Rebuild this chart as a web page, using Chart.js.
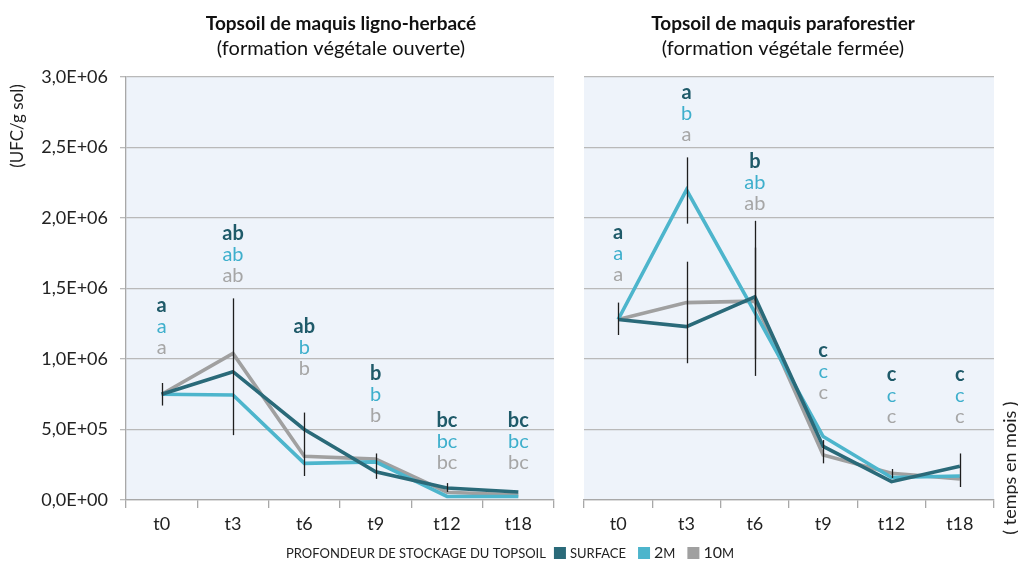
<!DOCTYPE html>
<html><head><meta charset="utf-8">
<script src="https://cdn.jsdelivr.net/npm/chart.js@4.4.1/dist/chart.umd.min.js"></script>
<style>
html,body{margin:0;padding:0;background:#fff;}
#wrap{position:relative;width:1018px;height:562px;}
canvas{position:absolute;left:0;top:0;}
</style>
</head><body>
<div id="wrap"><canvas id="c1" width="1018" height="562"></canvas><canvas id="c2" width="1018" height="562"></canvas></div>
<script>
// ---- data ----
const categories = ['t0','t3','t6','t9','t12','t18'];
const seriesNames = ['SURFACE','2M','10M'];
const yTickValues = [0, 5e5, 1e6, 1.5e6, 2e6, 2.5e6, 3e6];

const leftSurface = [0.75e6, 0.91e6, 0.50e6, 0.20e6, 0.085e6, 0.057e6];
const left2m      = [0.75e6, 0.745e6, 0.26e6, 0.27e6, 0.025e6, 0.025e6];
const left10m     = [0.75e6, 1.04e6, 0.31e6, 0.29e6, 0.055e6, 0.035e6];

const rightSurface = [1.28e6, 1.23e6, 1.44e6, 0.38e6, 0.13e6, 0.24e6];
const right2m      = [1.28e6, 2.20e6, 1.33e6, 0.45e6, 0.16e6, 0.17e6];
const right10m     = [1.28e6, 1.40e6, 1.41e6, 0.32e6, 0.19e6, 0.15e6];

// error bars: [category index, low, high]
const leftErrorBars  = [[0,0.67e6,0.83e6],[1,0.46e6,1.43e6],[2,0.17e6,0.62e6],[3,0.15e6,0.33e6],[4,0.057e6,0.12e6]];
const rightErrorBars = [[0,1.17e6,1.40e6],[1,1.96e6,2.43e6],[1,0.97e6,1.69e6],[2,0.88e6,1.98e6],[2,1.0e6,1.79e6],[3,0.26e6,0.425e6],[4,0.156e6,0.22e6],[5,0.092e6,0.33e6]];

// significance letters per category: [surface, 2m, 10m]
const leftLetters  = [['a','a','a'],['ab','ab','ab'],['ab','b','b'],['b','b','b'],['bc','bc','bc'],['bc','bc','bc']];
const rightLetters = [['a','a','a'],['a','b','a'],['b','ab','ab'],['c','c','c'],['c','c','c'],['c','c','c']];
// value level of the top letter of each stack
const leftLetterLevels  = [1.38e6, 1.89e6, 1.23e6, 0.90e6, 0.56e6, 0.56e6];
const rightLetterLevels = [1.90e6, 2.89e6, 2.40e6, 1.06e6, 0.89e6, 0.89e6];

const leftTitle  = ['Topsoil de maquis ligno-herbacé', '(formation végétale ouverte)'];
const rightTitle = ['Topsoil de maquis paraforestier', '(formation végétale fermée)'];
const yAxisTitle = '(UFC/g sol)';
const xAxisTitle = '( temps en mois )';
const legendTitle = 'PROFONDEUR DE STOCKAGE DU TOPSOIL';

// ---- styles ----
const FONT = 'Lato, "Open Sans", sans-serif';
const colors = ['#2a6a79', '#4db5cc', '#a0a0a0'];
const letterColors = ['#1f5a69', '#3eafcc', '#a6a6a6'];
const BG = '#eef3fa';
const GRID = '#b9b9b9';

function fmt(v){
  if (v === 0) return '0,0E+00';
  const e = Math.floor(Math.log10(v) + 1e-9);
  const m = v / Math.pow(10, e);
  return m.toFixed(1).replace('.', ',') + 'E+' + String(e).padStart(2,'0');
}

function makeDatasets(s, m2, m10){
  return [s, m2, m10].map((d,i)=>({
    label: seriesNames[i], data: d, borderColor: colors[i], backgroundColor: colors[i],
    borderWidth: 3.6, pointRadius: 0, tension: 0, fill: false
  }));
}

const panelPlugin = {
  id: 'panel',
  beforeDraw(chart, args, o){
    const {ctx, chartArea: a} = chart;
    ctx.save(); ctx.fillStyle = BG; ctx.fillRect(a.left, a.top, a.right-a.left, a.bottom-a.top); ctx.restore();
  },
  afterDatasetsDraw(chart, args, o){
    const {ctx, chartArea: a} = chart;
    const xs = chart.scales.x, ys = chart.scales.y;
    ctx.save();
    ctx.strokeStyle = '#1e1e1e'; ctx.lineWidth = 1.3;
    o.errors.forEach(([i, lo, hi])=>{
      const x = Math.round(xs.getPixelForValue(i)) + 0.5;
      ctx.beginPath(); ctx.moveTo(x, ys.getPixelForValue(lo)); ctx.lineTo(x, ys.getPixelForValue(hi)); ctx.stroke();
    });
    ctx.textAlign = 'center'; ctx.textBaseline = 'middle';
    o.letters.forEach((trip, i)=>{
      const x = xs.getPixelForValue(i);
      const y0 = ys.getPixelForValue(o.levels[i]);
      trip.forEach((t, k)=>{
        ctx.font = (k === 0 ? 'bold ' : '') + '20px ' + FONT;
        ctx.fillStyle = letterColors[k]; ctx.fillText(t, x, y0 + k*21);
      });
    });
    ctx.restore();
  },
  afterDraw(chart, args, o){
    const {ctx, chartArea: a} = chart;
    const cx = (a.left + a.right)/2 + (o.titleDx||0);
    ctx.save();
    ctx.fillStyle = '#111'; ctx.textAlign = 'center'; ctx.textBaseline = 'middle';
    ctx.font = 'bold 19px ' + FONT; ctx.fillText(o.title[0], cx, 24);
    ctx.font = '20px ' + FONT; ctx.fillText(o.title[1], cx, 49);
    if (o.vtitle){
      ctx.translate(o.vtitle.x, o.vtitle.y); ctx.rotate(-Math.PI/2);
      ctx.font = o.vtitle.size + 'px ' + FONT; ctx.fillStyle = '#222'; ctx.fillText(o.vtitle.text, 0, 0);
      ctx.setTransform(1,0,0,1,0,0);
    }
    if (o.legend){
      ctx.textAlign = 'left'; ctx.textBaseline = 'alphabetic';
      const base = 558, small = '13px ' + FONT, big = '16px ' + FONT;
      const parts = [];
      parts.push({t: legendTitle, f: small, gap: 8});
      const labels = [[['SURFACE', small]], [['2', big], ['M', small]], [['10', big], ['M', small]]];
      labels.forEach((lab, i)=>{
        parts.push({box: colors[i], gap: 4});
        lab.forEach((p, j)=> parts.push({t: p[0], f: p[1], gap: j === lab.length-1 ? 12 : 0}));
      });
      let total = 0;
      parts.forEach(p=>{ if (p.box) p.w = 12; else { ctx.font = p.f; p.w = ctx.measureText(p.t).width; } total += p.w + p.gap; });
      let x = 516 - total/2;
      parts.forEach(p=>{
        if (p.box){ ctx.fillStyle = p.box; ctx.fillRect(x, base-11, 12, 12); }
        else { ctx.font = p.f; ctx.fillStyle = '#222'; ctx.fillText(p.t, x, base); }
        x += p.w + p.gap;
      });
    }
    ctx.restore();
  }
};

function makeChart(id, datasets, opts){
  return new Chart(document.getElementById(id), {
    type: 'line',
    data: { labels: categories, datasets },
    plugins: [panelPlugin],
    options: {
      responsive: false, animation: false, events: [],
      layout: { padding: opts.padding },
      plugins: { legend: {display:false}, tooltip:{enabled:false}, title:{display:false}, panel: opts.panel },
      scales: {
        x: {
          offset: true,
          grid: { offset: true, drawOnChartArea: false, drawTicks: true, tickLength: 8, color: '#a8a8a8', lineWidth: 1.3 },
          border: { display: true, color: '#a8a8a8', width: 1.3 },
          ticks: { font: { family: FONT, size: 18 }, color: '#222', padding: 5 },
          afterFit: s => { s.height = 62; }
        },
        y: {
          min: 0, max: 3e6,
          afterBuildTicks: s => { s.ticks = yTickValues.map(v=>({value:v})); },
          grid: { color: GRID, lineWidth: 1.3, drawTicks: opts.showY, tickLength: 6 },
          border: { display: opts.showY, color: '#a8a8a8', width: 1.3 },
          ticks: { display: opts.showY, callback: v => fmt(v), font: { family: FONT, size: 18 }, color: '#222', padding: 12 },
          afterFit: s => { s.width = opts.yWidth; }
        }
      }
    }
  });
}

makeChart('c1', makeDatasets(leftSurface, left2m, left10m), {
  padding: { left: 0, right: 1018-554, top: 77, bottom: 0 }, showY: true, yWidth: 126,
  panel: { errors: leftErrorBars, letters: leftLetters, levels: leftLetterLevels, title: leftTitle, titleDx: 1,
           vtitle: { text: yAxisTitle, x: 18, y: 126, size: 17 } }
});
makeChart('c2', makeDatasets(rightSurface, right2m, right10m), {
  padding: { left: 584, right: 1018-994, top: 77, bottom: 0 }, showY: false, yWidth: 0,
  panel: { errors: rightErrorBars, letters: rightLetters, levels: rightLetterLevels, title: rightTitle, titleDx: -6,
           vtitle: { text: xAxisTitle, x: 1010, y: 468, size: 18 }, legend: true }
});
</script>
</body></html>
